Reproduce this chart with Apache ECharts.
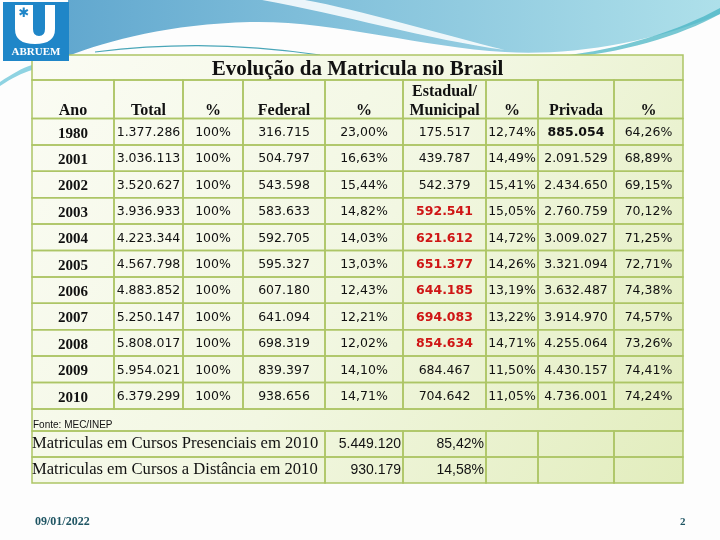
<!DOCTYPE html>
<html>
<head>
<meta charset="utf-8">
<script src="https://cdn.jsdelivr.net/npm/echarts@6/dist/echarts.min.js"></script>
<style>
html,body{margin:0;padding:0;background:#fdfdfd;}
#chart{width:720px;height:540px;}
</style>
</head>
<body>
<div id="chart"></div>
<script>
// ---------------- DATA ----------------
const title = 'Evolução da Matricula no Brasil';
const headers = ['Ano', 'Total', '%', 'Federal', '%', 'Estadual/\nMunicipal', '%', 'Privada', '%'];
const years = ['1980', '2001', '2002', '2003', '2004', '2005', '2006', '2007', '2008', '2009', '2010'];
const total = [1377286, 3036113, 3520627, 3936933, 4223344, 4567798, 4883852, 5250147, 5808017, 5954021, 6379299];
const totalPct = [100, 100, 100, 100, 100, 100, 100, 100, 100, 100, 100];
const federal = [316715, 504797, 543598, 583633, 592705, 595327, 607180, 641094, 698319, 839397, 938656];
const federalPct = [23.00, 16.63, 15.44, 14.82, 14.03, 13.03, 12.43, 12.21, 12.02, 14.10, 14.71];
const estadual = [175517, 439787, 542379, 592541, 621612, 651377, 644185, 694083, 854634, 684467, 704642];
const estadualPct = [12.74, 14.49, 15.41, 15.05, 14.72, 14.26, 13.19, 13.22, 14.71, 11.50, 11.05];
const privada = [885054, 2091529, 2434650, 2760759, 3009027, 3321094, 3632487, 3914970, 4255064, 4430157, 4736001];
const privadaPct = [64.26, 68.89, 69.15, 70.12, 71.25, 72.71, 74.38, 74.57, 73.26, 74.41, 74.24];
const source = 'Fonte: MEC/INEP';
const modalLabels = ['Matriculas em Cursos Presenciais em 2010', 'Matriculas em Cursos a Distância em 2010'];
const modalValues = [5449120, 930179];
const modalPct = [85.42, 14.58];
const footerDate = '09/01/2022';
const pageNumber = '2';

// ---------------- STYLE / LAYOUT ----------------
const highlightedEstadual = ['2003', '2004', '2005', '2006', '2007', '2008'];
const boldPrivada = ['1980'];
const COL = [0, 82, 151, 211, 293, 371, 454, 506, 582, 651];
const TITLE_Y = [0, 25];
const HEAD_Y = [25, 63.5];
const ROW_H = 26.4;
const FONTE_H = 22;
const MODAL_H = 26;
const TABLE_W = 651, TABLE_H = 428;
const LINE = '#adc566';
const NUM_FONT = '12.5px "DejaVu Sans"';
const HEAD_FONT = 'bold 16px "Liberation Serif"';

function linGrad(x2, y2, stops) {
  return { type: 'linear', x: 0, y: 0, x2: x2, y2: y2, colorStops: stops, global: false };
}
function fmtInt(n) { return String(n).replace(/\B(?=(\d{3})+(?!\d))/g, '.'); }
function fmtPct(v) { return (v === 100) ? v + '%' : v.toFixed(2).replace('.', ',') + '%'; }

const cells = [];
cells.push({ x0: 0, y0: 0, x1: TABLE_W, y1: TABLE_H, kind: 'bg' });
cells.push({ x0: 0, y0: TITLE_Y[0], x1: TABLE_W, y1: TITLE_Y[1], text: title,
  font: 'bold 21px "Liberation Serif"', align: 'center', valign: 'middle', dy: 2 });
headers.forEach((h, j) => cells.push({ x0: COL[j], x1: COL[j + 1], y0: HEAD_Y[0], y1: HEAD_Y[1], text: h,
  font: HEAD_FONT, align: 'center', valign: 'bottom', lineHeight: 19, dy: 2 }));
years.forEach((y, i) => {
  const y0 = HEAD_Y[1] + i * ROW_H, y1 = y0 + ROW_H;
  const row = [
    { text: y, font: 'bold 15px "Liberation Serif"', dy: 2 },
    { text: fmtInt(total[i]) },
    { text: fmtPct(totalPct[i]) },
    { text: fmtInt(federal[i]) },
    { text: fmtPct(federalPct[i]) },
    highlightedEstadual.includes(y)
      ? { text: fmtInt(estadual[i]), font: 'bold 12.5px "DejaVu Sans"', color: '#cf1515' }
      : { text: fmtInt(estadual[i]) },
    { text: fmtPct(estadualPct[i]) },
    boldPrivada.includes(y)
      ? { text: fmtInt(privada[i]), font: 'bold 12.5px "DejaVu Sans"' }
      : { text: fmtInt(privada[i]) },
    { text: fmtPct(privadaPct[i]) }
  ];
  row.forEach((c, j) => cells.push(Object.assign({ x0: COL[j], x1: COL[j + 1], y0, y1,
    font: NUM_FONT, align: 'center', valign: 'middle', dy: 1 }, c)));
});
const fonteY0 = HEAD_Y[1] + years.length * ROW_H;
cells.push({ x0: 0, x1: TABLE_W, y0: fonteY0, y1: fonteY0 + FONTE_H, text: source,
  font: '10px "Liberation Sans"', align: 'left', valign: 'bottom', pad: 1, dy: -1 });
modalLabels.forEach((lab, k) => {
  const y0 = fonteY0 + FONTE_H + k * MODAL_H, y1 = y0 + MODAL_H;
  cells.push({ x0: 0, x1: COL[4], y0, y1, text: lab, font: '16.6px "Liberation Serif"', align: 'left', valign: 'middle', pad: 0, dy: 0 });
  cells.push({ x0: COL[4], x1: COL[5], y0, y1, text: fmtInt(modalValues[k]), font: '14px "Liberation Sans"', align: 'right', valign: 'middle', pad: 2, dy: 0 });
  cells.push({ x0: COL[5], x1: COL[6], y0, y1, text: fmtPct(modalPct[k]), font: '14px "Liberation Sans"', align: 'right', valign: 'middle', pad: 2, dy: 0 });
  for (let j = 6; j < 9; j++) cells.push({ x0: COL[j], x1: COL[j + 1], y0, y1 });
});

function renderCell(params, api) {
  const c = cells[api.value(4)];
  const p0 = api.coord([api.value(0), api.value(1)]);
  const p1 = api.coord([api.value(2), api.value(3)]);
  const w = p1[0] - p0[0], h = p1[1] - p0[1];
  if (c.kind === 'bg') {
    return { type: 'rect', shape: { x: p0[0], y: p0[1], width: w, height: h },
      style: { fill: linGrad(1, 1, [
        { offset: 0, color: '#fbfcf4' }, { offset: 0.5, color: '#f2f7e2' }, { offset: 1, color: '#e2edbd' }]) } };
  }
  const children = [{ type: 'rect', shape: { x: p0[0], y: p0[1], width: w, height: h },
    style: { fill: 'none', stroke: LINE, lineWidth: 1.5 } }];
  if (c.text !== undefined) {
    const pad = c.pad !== undefined ? c.pad : 3;
    const tx = c.align === 'left' ? p0[0] + pad : c.align === 'right' ? p1[0] - pad : (p0[0] + p1[0]) / 2;
    const ty = (c.valign === 'bottom' ? p1[1] : (p0[1] + p1[1]) / 2) + (c.dy || 0);
    const st = { text: c.text, x: tx, y: ty, align: c.align, verticalAlign: c.valign,
      font: c.font, fill: c.color || '#111' };
    if (c.lineHeight) st.lineHeight = c.lineHeight;
    children.push({ type: 'text', style: st });
  }
  return { type: 'group', children };
}

function renderSwoosh() {
  return { type: 'group', children: [
    { type: 'path', shape: { pathData: 'M68,0 H720 V14 C650,44 565,56 505,52 C420,47 330,20 250,22 C170,24 110,40 68,56 Z' },
      style: { fill: linGrad(1, 0, [
        { offset: 0, color: '#62a8cf' }, { offset: 0.45, color: '#86c3dc' }, { offset: 1, color: '#aee0ea' }]) } },
    { type: 'path', shape: { pathData: 'M262,0 C340,14 430,40 505,50 C440,34 360,10 305,0 Z' },
      style: { fill: '#ffffff', opacity: 0.85 } },
    { type: 'path', shape: { pathData: 'M560,56 C620,50 680,30 720,8 L720,14 C680,36 620,54 560,58 Z' },
      style: { fill: '#3fb0c0', opacity: 0.7 } },
    { type: 'path', shape: { pathData: 'M95,52 C160,44 230,42 320,55' },
      style: { fill: 'none', stroke: '#4aa6b8', lineWidth: 1.2 } },
    { type: 'path', shape: { pathData: 'M0,82 C12,74 22,68 32,65 L32,70 C22,73 12,78 0,86 Z' },
      style: { fill: '#8fd3e2' } }
  ] };
}
function renderLogo() {
  return { type: 'group', children: [
    { type: 'rect', shape: { x: 3, y: 2, width: 66, height: 59 }, style: { fill: '#1f86c8' } },
    { type: 'path', shape: { pathData: 'M15,5 H33 V29 Q33,36 39,36 Q45,36 45,29 V5 H55 V29 Q55,44 35,44 Q15,44 15,29 Z' },
      style: { fill: '#ffffff' } },
    { type: 'text', style: { text: '✱', x: 24, y: 14, align: 'center', verticalAlign: 'middle',
      font: 'bold 13px "DejaVu Sans"', fill: '#1f86c8' } },
    { type: 'text', style: { text: 'ABRUEM', x: 36, y: 52, align: 'center', verticalAlign: 'middle',
      font: 'bold 11px "Liberation Serif"', fill: '#ffffff' } }
  ] };
}

const chart = echarts.init(document.getElementById('chart'), null, { renderer: 'canvas' });
chart.setOption({
  animation: false,
  backgroundColor: '#fdfdfd',
  grid: { left: 32, top: 55, width: TABLE_W, height: TABLE_H },
  xAxis: { type: 'value', min: 0, max: TABLE_W, show: false },
  yAxis: { type: 'value', min: 0, max: TABLE_H, inverse: true, show: false },
  series: [{
    type: 'custom', coordinateSystem: 'none', renderItem: renderSwoosh,
    data: [[0]], silent: true, z: 0
  }, {
    type: 'custom',
    renderItem: renderCell,
    encode: { x: [0, 2], y: [1, 3] },
    data: cells.map((c, i) => [c.x0, c.y0, c.x1, c.y1, i]),
    silent: true,
    clip: false,
    z: 2
  }, {
    type: 'custom', coordinateSystem: 'none', renderItem: renderLogo,
    data: [[0]], silent: true, z: 5
  }],
  graphic: [
    { type: 'text', style: { text: footerDate, x: 35, y: 522, verticalAlign: 'middle',
      font: 'bold 12px "Liberation Serif"', fill: '#1f5563' } },
    { type: 'text', style: { text: pageNumber, x: 680, y: 522, verticalAlign: 'middle',
      font: 'bold 11px "Liberation Serif"', fill: '#1f5563' } }
  ]
});
</script>
</body>
</html>
